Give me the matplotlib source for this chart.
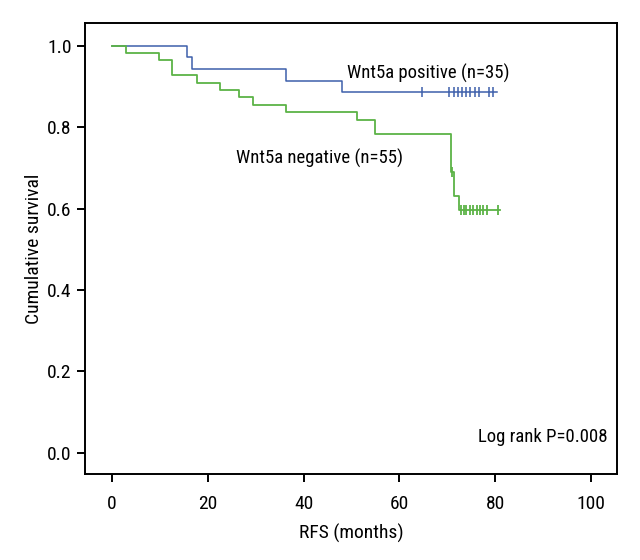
import matplotlib
matplotlib.use('Agg')
import matplotlib.pyplot as plt
from matplotlib import font_manager

# Kaplan-Meier steps (months, survival)
pos_times = [0, 15.6, 16.8, 36.3, 48.1, 80.3]
pos_surv = [1.0, 0.971, 0.943, 0.914, 0.886, 0.886]
pos_censor = [64.8, 70.4, 71.3, 72.2, 73.1, 74.0, 74.8, 75.7, 76.6, 78.6, 79.6]

neg_times = [0, 2.9, 9.8, 12.6, 17.7, 22.5, 26.5, 29.5, 36.3, 51.1, 54.9, 70.7, 71.4, 72.5, 81.0]
neg_surv = [1.0, 0.982, 0.964, 0.927, 0.909, 0.891, 0.873, 0.855, 0.836, 0.818, 0.782, 0.69, 0.632, 0.597, 0.597]
neg_censor_t = [71.0, 72.8, 73.4, 74.0, 74.7, 75.4, 76.2, 76.8, 77.5, 78.3, 80.6]
neg_censor_s = [0.69] + [0.597] * 10

blue = '#3d5fab'
green = '#5cb346'

# condensed face if there is one
names = {f.name for f in font_manager.fontManager.ttflist}
cond = [n for n in ['Liberation Sans Narrow', 'DejaVu Sans Condensed', 'Roboto Condensed',
                    'Open Sans Condensed'] if n in names]
plt.rcParams['font.family'] = cond + ['DejaVu Sans']
plt.rcParams['font.stretch'] = 'condensed'
fs = 14 if cond else 13
fs_txt = 13.5 if cond else 12.5

fig = plt.figure(figsize=(6.4, 5.6), dpi=100)
ax = fig.add_axes([0.1328, 0.1536, 0.832, 0.8048])

ax.step(pos_times, pos_surv, where='post', color=blue, lw=1.1)
ax.plot(pos_censor, [pos_surv[-1]] * len(pos_censor), ls='none', marker='|',
        ms=7, mew=1.1, color=blue)
ax.step(neg_times, neg_surv, where='post', color=green, lw=1.3)
ax.plot(neg_censor_t, neg_censor_s, ls='none', marker='|', ms=7, mew=1.3, color=green)

ax.text(49.0, 0.932, 'Wnt5a positive (n=35)', fontsize=fs_txt, va='center', ha='left')
ax.text(26.0, 0.723, 'Wnt5a negative (n=55)', fontsize=fs_txt, va='center', ha='left')
ax.text(103.5, 0.04, 'Log rank P=0.008', fontsize=fs_txt, va='center', ha='right')

ax.set_xlim(-5.6, 105.5)
ax.set_ylim(-0.052, 1.055)
ax.set_xticks([0, 20, 40, 60, 80, 100])
ax.set_yticks([0.0, 0.2, 0.4, 0.6, 0.8, 1.0])
ax.set_yticklabels(['0.0', '0.2', '0.4', '0.6', '0.8', '1.0'])
ax.tick_params(labelsize=fs, length=6, width=1.4, direction='out')
ax.tick_params(axis='x', pad=9)
for s in ax.spines.values():
    s.set_linewidth(1.4)

ax.set_xlabel('RFS (months)', fontsize=fs, labelpad=8)
ax.set_ylabel('Cumulative survival', fontsize=fs, labelpad=3)

fig.savefig('out.png', dpi=100)
